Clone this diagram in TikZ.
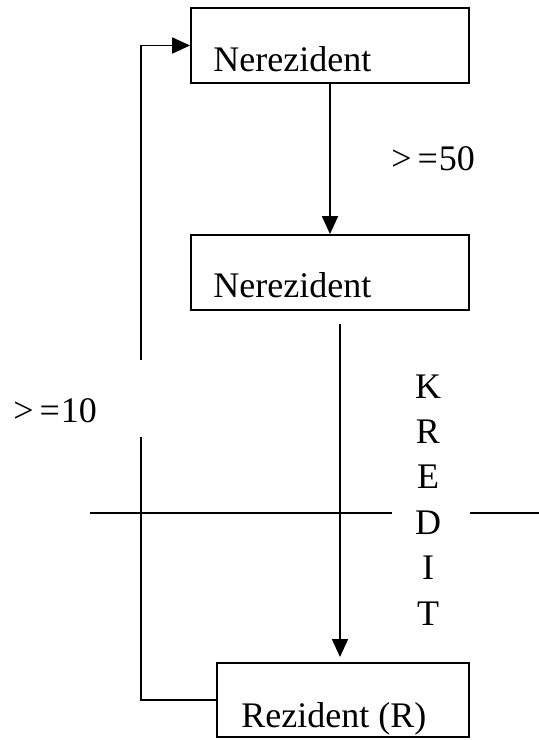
\documentclass[tikz,border=0pt]{standalone}
\usepackage{fontspec}
\setmainfont{Liberation Serif}
\usetikzlibrary{arrows.meta}
\begin{document}
\begin{tikzpicture}[x=0.5pt,y=-0.5pt,
  box/.style={draw,line width=0.9pt,minimum width=139pt,minimum height=37.5pt,inner sep=0pt},
  boxw/.style={box,minimum width=126pt,minimum height=37pt},
  txt/.style={anchor=base west,inner sep=0pt,font=\fontsize{18}{20}\selectfont},
  letter/.style={anchor=base,inner sep=0pt,font=\fontsize{18}{20}\selectfont},
  conn/.style={line width=0.9pt},
  arr/.style={conn,-{Triangle[length=9pt,width=8pt]}}]
\useasboundingbox (0,0) rectangle (539,740);
% boxes
\node[box] (b1) at (330,45.5) {};
\node[box] (b2) at (330,272.5) {};
\node[boxw] (b3) at (343,700) {};
\node[txt] (t1) at (213,71) {Nerezident};
\node[txt] (t2) at (213,297) {Nerezident};
\node[txt] (t3) at (241,727) {Rezident (R)};
% labels
\node[txt] (l50) at (391,170) {>\kern3pt=\kern0.5pt50};
\node[txt] (l10) at (13,422) {>\kern3pt=\kern0.5pt10};
\foreach \c [count=\i] in {K,R,E,D,I,T}
  \node[letter] (k\i) at (428,{398+45.4*(\i-1)}) {\c};
% connectors
\draw[arr] (330,83.5) coordinate (a1s) -- (b2.north);
\coordinate (a2s) at (340,324);
\coordinate (a2e) at (340,657);
\draw[arr] (a2s) -- (a2e);
\coordinate (c1) at (141,437);
\coordinate (c2) at (141,360);
\draw[conn] (b3.west) -| (c1);
\draw[arr] (c2) |- (b1.west);
% horizontal line
\coordinate (h1) at (90,513);
\coordinate (h2) at (392,513);
\coordinate (h3) at (470,513);
\coordinate (h4) at (539,513);
\draw[conn] (h1) -- (h2);
\draw[conn] (h3) -- (h4);
\end{tikzpicture}
\end{document}
